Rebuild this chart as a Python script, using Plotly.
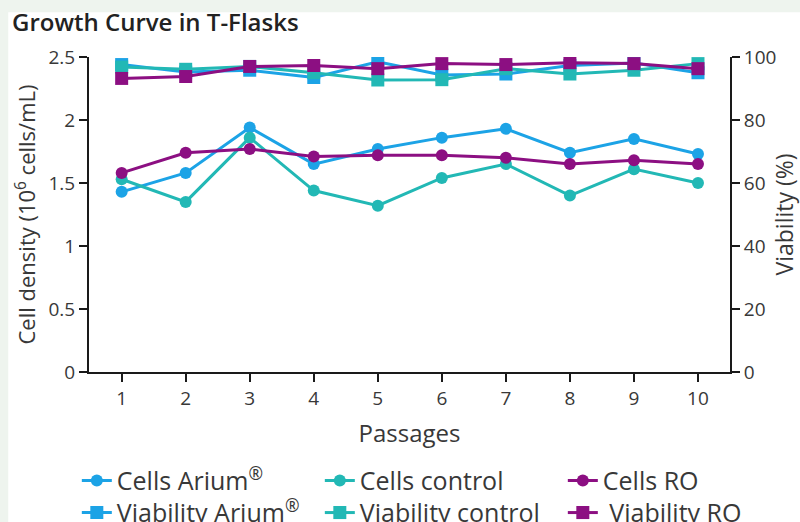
import plotly.graph_objects as go

passages = [1, 2, 3, 4, 5, 6, 7, 8, 9, 10]

cells_arium = [1.43, 1.58, 1.94, 1.65, 1.77, 1.86, 1.93, 1.74, 1.85, 1.73]
cells_control = [1.53, 1.35, 1.86, 1.44, 1.32, 1.54, 1.65, 1.40, 1.61, 1.50]
cells_ro = [1.58, 1.74, 1.77, 1.71, 1.72, 1.72, 1.70, 1.65, 1.68, 1.65]

viab_arium = [97.6, 95.2, 95.8, 93.5, 98.5, 94.3, 94.6, 97.3, 98.1, 95.0]
viab_control = [96.8, 96.1, 97.0, 95.0, 92.7, 92.8, 96.3, 94.6, 95.8, 97.9]
viab_ro = [93.2, 93.8, 97.0, 97.3, 96.3, 97.9, 97.6, 98.2, 97.9, 96.3]

BLUE = "#1ca3e6"
TEAL = "#22b8b5"
PURPLE = "#8c0f82"
FONT = "Open Sans"
TXT = "#383838"

fig = go.Figure()

def add(name, y, color, symbol, axis, legend):
    fig.add_trace(go.Scatter(
        x=passages, y=y, name=name, mode="lines+markers",
        line=dict(color=color, width=3),
        marker=dict(color=color, symbol=symbol, size=12 if symbol == "circle" else 13),
        yaxis=axis, legend=legend,
    ))

add("Cells Arium<sup>®</sup>", cells_arium, BLUE, "circle", "y", "legend")
add("Cells control", cells_control, TEAL, "circle", "y", "legend")
add("Cells RO", cells_ro, PURPLE, "circle", "y", "legend")
add("Viability Arium<sup>®</sup>", viab_arium, BLUE, "square", "y2", "legend2")
add("Viability control", viab_control, TEAL, "square", "y2", "legend2")
add(" Viability RO", viab_ro, PURPLE, "square", "y2", "legend2")

axis_common = dict(
    showline=True, linecolor="#1a1a1a", linewidth=2,
    ticks="outside", ticklen=8, tickwidth=2, tickcolor="#1a1a1a",
    showgrid=False, zeroline=False, automargin=False,
    tickfont=dict(family=FONT, size=19, color=TXT),
)
legend_common = dict(orientation="h", xanchor="left", yanchor="top", x=-0.019,
                     entrywidth=198, entrywidthmode="pixels",
                     font=dict(family=FONT, size=25, color=TXT),
                     bgcolor="rgba(0,0,0,0)")

fig.update_layout(
    width=800, height=522,
    margin=dict(l=89, r=70, t=57, b=150, autoexpand=False),
    paper_bgcolor="#eef4ee",
    plot_bgcolor="white",
    font=dict(family=FONT, color=TXT),
    title=dict(text="Growth Curve in T-Flasks", xref="container", yref="container",
               x=12/800, xanchor="left", y=1-23/522, yanchor="middle",
               font=dict(family=FONT, size=24, color="#222222", weight=600)),
    xaxis=dict(range=[0.49, 10.5], tickvals=passages,
               title=dict(text="Passages", font=dict(family=FONT, size=24, color=TXT), standoff=15),
               **axis_common),
    yaxis=dict(range=[0, 2.5], tickvals=[0, 0.5, 1, 1.5, 2, 2.5],
               ticktext=["0", "0.5", "1", "1.5", "2", "2.5"],
               title=dict(text="Cell density (10<sup>6</sup> cells/mL)",
                          font=dict(family=FONT, size=22, color=TXT), standoff=7),
               **axis_common),
    yaxis2=dict(range=[0, 100], tickvals=[0, 20, 40, 60, 80, 100], overlaying="y", side="right",
                title=dict(text="Viability (%)", font=dict(family=FONT, size=23, color=TXT), standoff=6),
                **axis_common),
    showlegend=True,
    legend=dict(y=-0.272, **legend_common),
    legend2=dict(y=-0.374, **legend_common),
    shapes=[dict(type="rect", xref="paper", yref="paper", layer="below",
                 x0=-0.126, x1=1.2, y0=-0.6, y1=1.142,
                 fillcolor="white", line=dict(width=0))],
)

fig.write_html("out.html", config={"displayModeBar": False},
               post_script="document.body.style.margin='0';")
